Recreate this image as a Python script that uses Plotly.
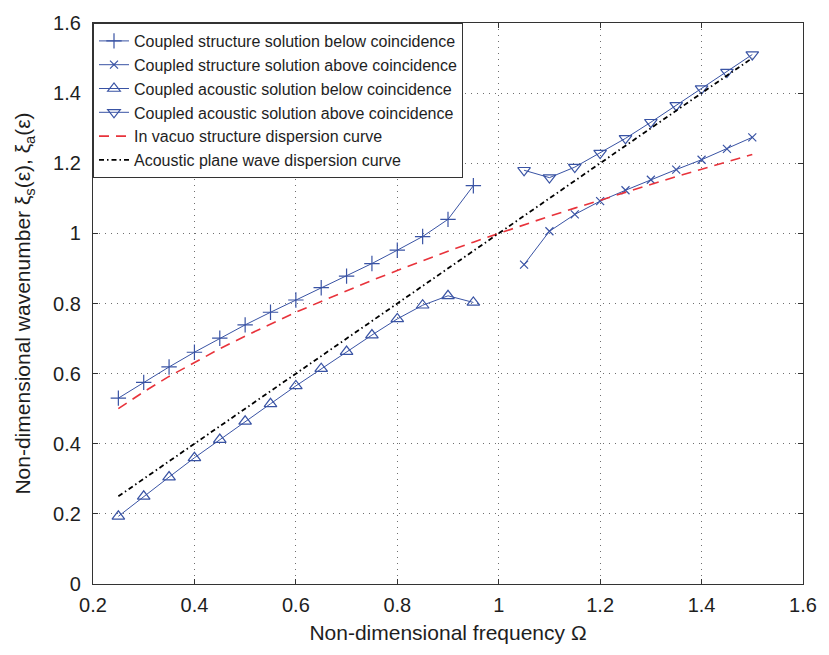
import plotly.graph_objects as go

# ---- data ----
omega_below = [0.25, 0.30, 0.35, 0.40, 0.45, 0.50, 0.55, 0.60, 0.65, 0.70, 0.75, 0.80, 0.85, 0.90, 0.95]
struct_below = [0.530, 0.575, 0.619, 0.661, 0.701, 0.739, 0.775, 0.810, 0.845, 0.878, 0.914, 0.952, 0.991, 1.040, 1.136]
acoust_below = [0.193, 0.250, 0.305, 0.360, 0.412, 0.464, 0.514, 0.565, 0.614, 0.663, 0.710, 0.756, 0.795, 0.822, 0.803]

omega_above = [1.05, 1.10, 1.15, 1.20, 1.25, 1.30, 1.35, 1.40, 1.45, 1.50]
struct_above = [0.911, 1.006, 1.054, 1.092, 1.123, 1.153, 1.182, 1.210, 1.241, 1.274]
acoust_above = [1.180, 1.159, 1.189, 1.229, 1.271, 1.317, 1.365, 1.413, 1.460, 1.510]

omega_vacuo = [0.25, 0.30, 0.35, 0.40, 0.45, 0.50, 0.55, 0.60, 0.65, 0.70, 0.75, 0.80, 0.85, 0.90, 0.95,
               1.00, 1.05, 1.10, 1.15, 1.20, 1.25, 1.30, 1.35, 1.40, 1.45, 1.50]
vacuo_curve = [0.500, 0.548, 0.592, 0.632, 0.671, 0.707, 0.742, 0.775, 0.806, 0.837, 0.866, 0.894, 0.922, 0.949, 0.975,
               1.000, 1.025, 1.049, 1.072, 1.095, 1.118, 1.140, 1.162, 1.183, 1.204, 1.225]

omega_plane = [0.25, 1.50]
plane_curve = [0.25, 1.50]

x_ticks = [0.2, 0.4, 0.6, 0.8, 1.0, 1.2, 1.4, 1.6]
x_tick_text = ["0.2", "0.4", "0.6", "0.8", "1", "1.2", "1.4", "1.6"]
y_ticks = [0, 0.2, 0.4, 0.6, 0.8, 1.0, 1.2, 1.4, 1.6]
y_tick_text = ["0", "0.2", "0.4", "0.6", "0.8", "1", "1.2", "1.4", "1.6"]

BLUE = "#3953a4"
RED = "#e8333b"
TXT = "#1e1e1e"

fig = go.Figure()
fig.add_trace(go.Scatter(x=omega_below, y=struct_below, mode="lines+markers",
                         name="Coupled structure solution below coincidence",
                         line=dict(color=BLUE, width=1),
                         marker=dict(symbol="cross-thin", size=11, line=dict(color=BLUE, width=1.2))))
fig.add_trace(go.Scatter(x=omega_above, y=struct_above, mode="lines+markers",
                         name="Coupled structure solution above coincidence",
                         line=dict(color=BLUE, width=1),
                         marker=dict(symbol="x-thin", size=8, line=dict(color=BLUE, width=1.2))))
fig.add_trace(go.Scatter(x=omega_below, y=acoust_below, mode="lines+markers",
                         name="Coupled acoustic solution below coincidence",
                         line=dict(color=BLUE, width=1),
                         marker=dict(symbol="triangle-up-open", size=11, color=BLUE, line=dict(color=BLUE, width=1.2))))
fig.add_trace(go.Scatter(x=omega_above, y=acoust_above, mode="lines+markers",
                         name="Coupled acoustic solution above coincidence",
                         line=dict(color=BLUE, width=1),
                         marker=dict(symbol="triangle-down-open", size=11, color=BLUE, line=dict(color=BLUE, width=1.2))))
fig.add_trace(go.Scatter(x=omega_vacuo, y=vacuo_curve, mode="lines",
                         name="In vacuo structure dispersion curve",
                         line=dict(color=RED, width=1.6, dash="10px,7px")))
fig.add_trace(go.Scatter(x=omega_plane, y=plane_curve, mode="lines",
                         name="Acoustic plane wave dispersion curve",
                         line=dict(color="black", width=1.8, dash="5px,3px,1.5px,3px")))

axis_common = dict(
    showline=True, linecolor="#333333", linewidth=1.2, mirror="ticks",
    ticks="inside", ticklen=5, tickcolor="#333333",
    showgrid=True, gridcolor="#6f6f6f", griddash="1px,5px", gridwidth=1,
    zeroline=False, tickfont=dict(size=20, color=TXT),
)

fig.update_xaxes(range=[0.2, 1.6], tickvals=x_ticks, ticktext=x_tick_text, ticklabelstandoff=3,
                 title=dict(text="Non-dimensional frequency Ω", font=dict(size=21, color=TXT), standoff=10),
                 **axis_common)
fig.update_yaxes(range=[0, 1.6], tickvals=y_ticks, ticktext=y_tick_text, ticklabelstandoff=7,
                 title=dict(text="Non-dimensional wavenumber ξ<sub>s</sub>(ε), ξ<sub>a</sub>(ε)",
                            font=dict(size=21, color=TXT), standoff=16),
                 **axis_common)

fig.update_layout(
    width=829, height=655,
    margin=dict(l=93, r=17, t=18, b=71),
    plot_bgcolor="white", paper_bgcolor="white",
    font=dict(family="Liberation Sans, Arial, sans-serif", color=TXT),
    legend=dict(x=0, y=1, xanchor="left", yanchor="top",
                bgcolor="white", bordercolor="#333333", borderwidth=1,
                font=dict(size=16, color=TXT), itemwidth=30, tracegroupgap=0),
    showlegend=True,
)

fig.write_html("out.html")
